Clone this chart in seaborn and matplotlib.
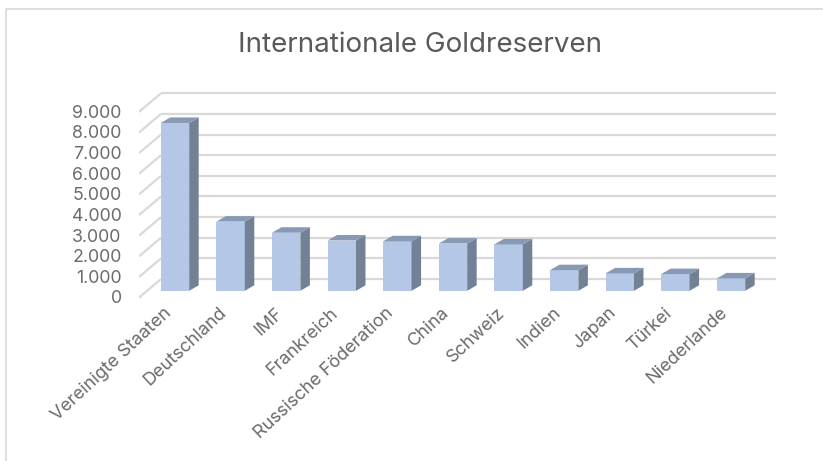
import matplotlib
matplotlib.use("Agg")
import matplotlib.pyplot as plt
from matplotlib.patches import Polygon, Rectangle
import seaborn as sns

# Gold reserves in tonnes
countries = ["Vereinigte Staaten", "Deutschland", "IMF", "Frankreich",
             "Russische Föderation", "China", "Schweiz", "Indien", "Japan",
             "Türkei", "Niederlande"]
reserves = [8133, 3352, 2814, 2437, 2400, 2290, 2250, 1000, 845, 810, 600]
axis_ticks = [0, 1000, 2000, 3000, 4000, 5000, 6000, 7000, 8000, 9000]
tick_labels = [f"{t:,}".replace(",", ".") for t in axis_ticks]
title = "Internationale Goldreserven"

sns.set_theme(style="white")
plt.rcParams["font.family"] = ["Inter", "DejaVu Sans"]

W, H = 823, 461
fig = plt.figure(figsize=(W / 100, H / 100), dpi=100)
fig.patch.set_facecolor("white")

# plot area in pixels
ax_left, ax_right, ax_top, ax_bottom = 139, 790, 85, 305
ax = fig.add_axes([ax_left / W, 1 - ax_bottom / H,
                   (ax_right - ax_left) / W, (ax_bottom - ax_top) / H])
ax.set_facecolor("none")

slot = 55.6            # px per category
x0_px = 175.0          # px of first category centre
ppu = 20.64 / 1000     # px per tonne
base_px = 290.8        # px of the bar floor

front = "#b4c7e7"
side = "#738196"
top = "#8799b3"
grid = "#d9d9d9"
text_col = "#6b6b6b"

bar_w = 0.51
sns.barplot(x=countries, y=reserves, color=front, width=bar_w, saturation=1,
            linewidth=0, ax=ax, zorder=3)

# depth of each column and of the back wall
ddx = 9.5 / slot
ddy = 5.5 / ppu
back_x = (161 - x0_px) / slot
wall_right = (776 - x0_px) / slot
back_dy = 570
front_dy = -330
xlim = ((ax_left - x0_px) / slot, (ax_right - x0_px) / slot)
ylim = ((base_px - ax_bottom) / ppu, (base_px - ax_top) / ppu)

# back wall grid with slanted side-wall segments
for v in axis_ticks:
    ax.plot([back_x, wall_right], [v + back_dy, v + back_dy],
            color=grid, lw=1.6, zorder=1, solid_capstyle="butt")
    ax.plot([xlim[0], back_x], [v + front_dy, v + back_dy],
            color=grid, lw=1.6, zorder=1, solid_capstyle="butt")

# side and top faces of the columns
for i, v in enumerate(reserves):
    r = i + bar_w / 2
    l = i - bar_w / 2
    ax.add_patch(Polygon([(r, 0), (r + ddx, ddy), (r + ddx, v + ddy), (r, v)],
                         closed=True, facecolor=side, edgecolor="none", zorder=3))
    ax.add_patch(Polygon([(l, v), (r, v), (r + ddx, v + ddy), (l + ddx, v + ddy)],
                         closed=True, facecolor=top, edgecolor="none", zorder=3))

ax.set_xlim(*xlim)
ax.set_ylim(*ylim)
for s in ax.spines.values():
    s.set_visible(False)
ax.grid(False)
ax.set_xlabel("")
ax.set_ylabel("")

ax.set_yticks([v - 300 for v in axis_ticks], tick_labels)
ax.tick_params(axis="y", length=0, pad=12.5, labelsize=12.8, labelcolor=text_col)

# slanted category labels, anchored at their upper right end
ax.set_xticks(range(len(countries)), [""] * len(countries))
ax.tick_params(axis="x", length=0)
for i, name in enumerate(countries):
    ax.annotate(name, xy=(i, 0), xycoords=("data", "axes fraction"),
                xytext=(-8.5, 0.5), textcoords="offset points",
                rotation=43, rotation_mode="anchor", ha="right", va="top",
                fontsize=13, color=text_col, annotation_clip=False)

fig.text(420 / W, 1 - 45 / H, title, ha="center", va="center",
         fontsize=20, color="#595959")

# chart frame
fig.add_artist(Rectangle((6 / W, -0.05), 1.0, 1 - 9 / H + 0.05,
                         transform=fig.transFigure, fill=False,
                         edgecolor="#d9d9d9", lw=1.2))

fig.savefig("out.png", dpi=100, facecolor=fig.get_facecolor())
